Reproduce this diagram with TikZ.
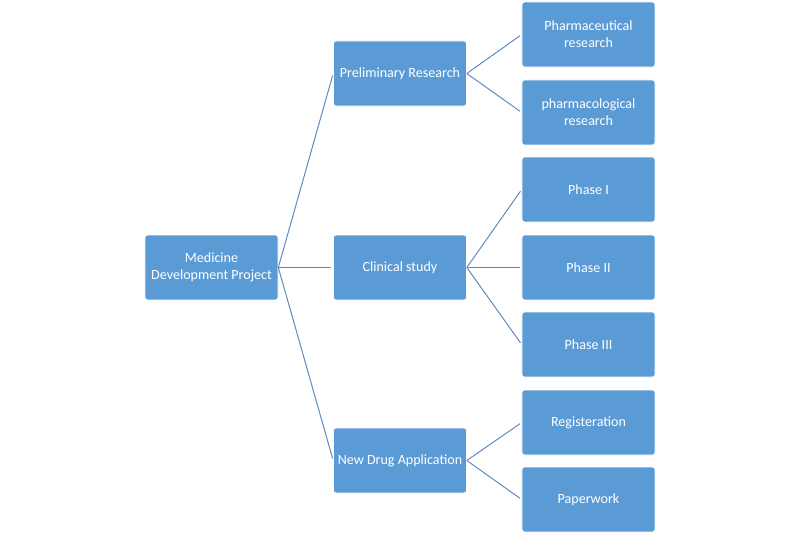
\documentclass[tikz,border=0pt]{standalone}
\usepackage{fontspec}
\setmainfont{Carlito}
\usepackage{tikz}
\usetikzlibrary{positioning}
\usepackage{xcolor}
\definecolor{boxblue}{HTML}{5B9BD5}
\definecolor{linkblue}{HTML}{5A8AC0}

\begin{document}
\begin{tikzpicture}[
    x=0.025cm, y=-0.025cm,
    taskBox/.style={rectangle, rounded corners=2pt, draw=white, line width=0.4pt, fill=boxblue, text=white, minimum width=3.325cm, minimum height=1.625cm, align=center, font=\fontsize{10}{12}\selectfont, inner sep=2pt},
    linkStyle/.style={draw=linkblue, line width=0.7pt, shorten >=1.5pt}
]
    \useasboundingbox (0,0) rectangle (800,535);

    % Wurzel
    \node[taskBox] (root) at (211.5, 267.5) {Medicine\\Development Project};

    % Mittlere Ebene
    \node[taskBox] (prelim) at (400, 73.5) {Preliminary Research};
    \node[taskBox] (clinic) at (400, 267.5) {Clinical study};
    \node[taskBox] (newdrug) at (400, 460.5) {New Drug Application};

    % Rechte Ebene
    \node[taskBox] (pharmaceu) at (588.5, 34.5) {Pharmaceutical\\research};
    \node[taskBox] (pharmaco) at (588.5, 112.5) {pharmacological\\research};
    \node[taskBox] (phaseOne) at (588.5, 189.5) {Phase I};
    \node[taskBox] (phaseTwo) at (588.5, 267.5) {Phase II};
    \node[taskBox] (phaseThree) at (588.5, 344.5) {Phase III};
    \node[taskBox] (register) at (588.5, 422.5) {Registeration};
    \node[taskBox] (paperwork) at (588.5, 499.5) {Paperwork};

    \draw[linkStyle] (root.east) -- (prelim.west);
    \draw[linkStyle] (root.east) -- (clinic.west);
    \draw[linkStyle] (root.east) -- (newdrug.west);

    \draw[linkStyle] (prelim.east) -- (pharmaceu.west);
    \draw[linkStyle] (prelim.east) -- (pharmaco.west);
    \draw[linkStyle] (clinic.east) -- (phaseOne.west);
    \draw[linkStyle] (clinic.east) -- (phaseTwo.west);
    \draw[linkStyle] (clinic.east) -- (phaseThree.west);
    \draw[linkStyle] (newdrug.east) -- (register.west);
    \draw[linkStyle] (newdrug.east) -- (paperwork.west);
\end{tikzpicture}
\end{document}
